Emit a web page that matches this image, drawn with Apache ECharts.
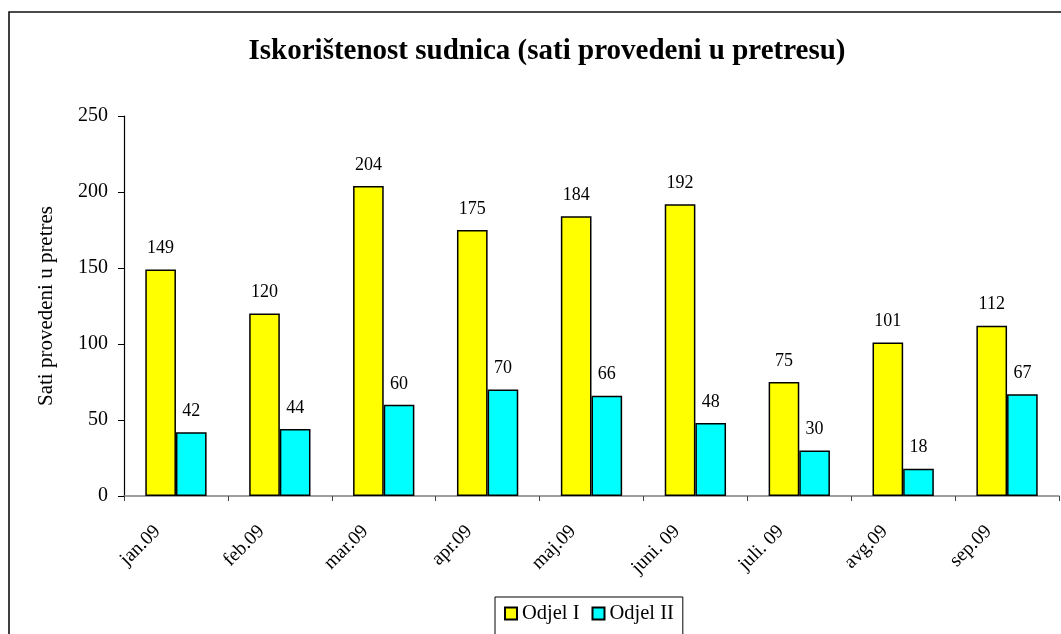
<!DOCTYPE html>
<html><head><meta charset="utf-8">
<script src="https://cdn.jsdelivr.net/npm/echarts@6/dist/echarts.min.js"></script>
<style>html,body{margin:0;padding:0;background:#fff}#c{width:1061px;height:634px}</style>
</head><body><div id="c"></div>
<script>
const categories = ['jan.09','feb.09','mar.09','apr.09','maj.09','juni. 09','juli. 09','avg.09','sep.09'];
const odjel1 = [149,120,204,175,184,192,75,101,112];
const odjel2 = [42,44,60,70,66,48,30,18,67];
const seriesNames = ['Odjel I','Odjel II'];
const titleText = 'Iskorištenost sudnica (sati provedeni u pretresu)';
const yAxisTitle = 'Sati provedeni u pretres';

const F = '"Liberation Serif","Times New Roman",serif';
const chart = echarts.init(document.getElementById('c'));
const lbl = {show:true, position:'top', distance:12, color:'#000', fontFamily:F, fontSize:18};
chart.setOption({
  animation:false,
  backgroundColor:'#fff',
  graphic:[{type:'rect', shape:{x:9,y:12,width:1100,height:700}, style:{fill:'none', stroke:'#111', lineWidth:1.6}, silent:true}],
  title:{text:titleText, left:542, textAlign:'center', top:32, textStyle:{fontFamily:F, fontWeight:'bold', fontSize:29, color:'#000'}},
  legend:{top:597, left:495, itemWidth:12, itemHeight:12, itemGap:12, icon:'rect',
    borderColor:'#000', borderWidth:1, padding:[6,9,20,9],
    textStyle:{fontFamily:F, fontSize:20.5, color:'#000'}},
  grid:{left:124, right:2, top:116, bottom:138, containLabel:false},
  xAxis:{type:'category', data:categories, boundaryGap:true,
    axisLine:{lineStyle:{color:'#808080', width:1.5}},
    axisTick:{show:true, length:5, alignWithLabel:false, lineStyle:{color:'#444'}},
    axisLabel:{rotate:45, margin:14, padding:[0,26,0,0], fontFamily:F, fontSize:19.5, color:'#000', interval:0}},
  yAxis:{type:'value', min:0, max:250, interval:50,
    name:yAxisTitle, nameLocation:'middle', nameGap:67, nameRotate:90,
    nameTextStyle:{fontFamily:F, fontSize:21, color:'#000'},
    splitLine:{show:false},
    axisLine:{show:true, lineStyle:{color:'#000', width:1.2}},
    axisTick:{show:true, inside:false, length:6, lineStyle:{color:'#000'}},
    axisLabel:{fontFamily:F, fontSize:20, color:'#000', margin:16}},
  series:[
    {name:seriesNames[0], type:'bar', data:odjel1, barGap:'0%', barCategoryGap:'41%',
     itemStyle:{color:'#FFFF00', borderColor:'#000', borderWidth:1.5}, label:lbl},
    {name:seriesNames[1], type:'bar', data:odjel2, barGap:'0%', barCategoryGap:'41%',
     itemStyle:{color:'#00FFFF', borderColor:'#000', borderWidth:1.5}, label:lbl}
  ]
});
</script></body></html>
